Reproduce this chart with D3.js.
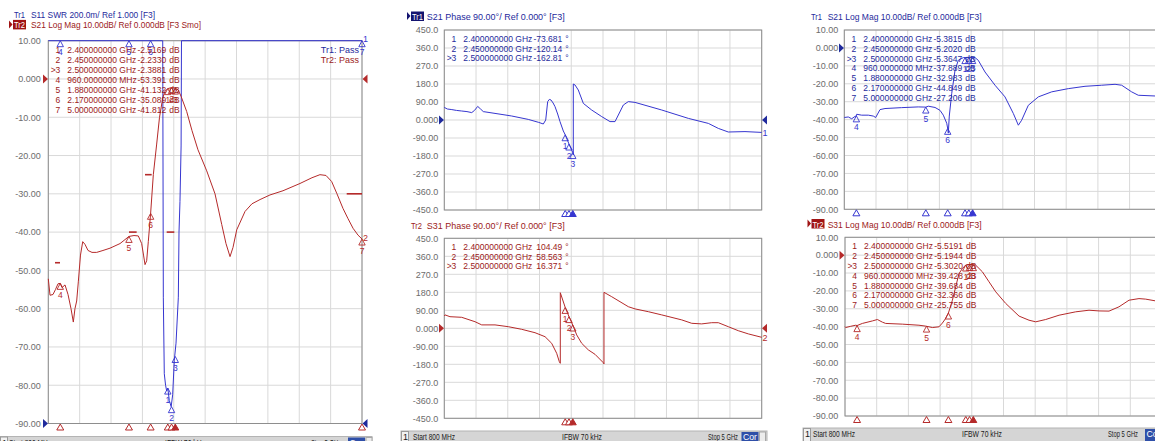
<!DOCTYPE html>
<html>
<head>
<meta charset="utf-8">
<script src="https://cdn.jsdelivr.net/npm/d3@7"></script>
<style>
  body { margin: 0; background: #fff; }
  svg { display: block; font-family: "Liberation Sans", Arial, sans-serif; }
</style>
</head>
<body>
<svg id="chart" width="1155" height="441"></svg>
<script>
// ---- tick labels (top to bottom) ----
const magTicks = ["10.00", "0.000", "-10.00", "-20.00", "-30.00", "-40.00", "-50.00", "-60.00", "-70.00", "-80.00", "-90.00"];
const phaseTicks = ["450.0", "360.0", "270.0", "180.0", "90.00", "0.000", "-90.00", "-180.0", "-270.0", "-360.0", "-450.0"];

// ---- markers ----
const markerFreqs = [2.4, 2.45, 2.5, 0.96, 1.88, 2.17, 5.0];
const phaseMarkerFreqs = [2.4, 2.45, 2.5];
const leftS21Markers = [-2.5169, -2.2330, -2.3881, -53.391, -41.132, -35.089, -41.812];
const leftSwrMarkers = [1.185, 1.088, 1.35, 3.5, 3.5, 3.5, 3.5];
const s21PhaseMarkers = [-73.681, -120.14, -162.81];
const s31PhaseMarkers = [104.49, 58.563, 16.371];
const rightS21Markers = [-5.3815, -5.2020, -5.3647, -37.889, -32.983, -44.849, -27.206];
const rightS31Markers = [-5.5191, -5.1944, -5.3020, -39.428, -39.684, -32.366, -25.755];

// ---- left screen: Tr1 S11 SWR ----
const leftSwrFreq = [0.8, 2.33, 2.332, 2.34, 2.353, 2.37, 2.385, 2.40, 2.42, 2.445, 2.465, 2.487, 2.51, 2.541, 2.55, 2.563, 2.578, 2.583, 2.59, 5.0];
const leftSwrVal = [3.6, 3.6, 3.0, 1.66, 1.26, 1.2, 1.17, 1.185, 1.12, 1.088, 1.15, 1.33, 1.42, 1.66, 2.0, 2.16, 2.45, 3.0, 3.6, 3.6];

// ---- left screen: Tr2 S21 log mag ----
const leftS21Freq = [0.8, 0.823, 0.863, 0.896, 0.93, 0.96, 0.983, 1.024, 1.064, 1.104, 1.135, 1.157, 1.18, 1.202, 1.231, 1.261, 1.291, 1.332, 1.385, 1.448, 1.532, 1.626, 1.76, 1.88, 1.947, 2.005, 2.05, 2.075, 2.095, 2.117, 2.139, 2.17, 2.206, 2.251, 2.289, 2.332, 2.362, 2.4, 2.45, 2.5, 2.537, 2.577, 2.653, 2.724, 2.804, 2.921, 3.032, 3.122, 3.179, 3.233, 3.273, 3.323, 3.434, 3.527, 3.635, 3.768, 3.942, 4.17, 4.33, 4.437, 4.518, 4.594, 4.665, 4.745, 4.813, 4.88, 4.947, 5.0];
const leftS21Val = [-52.2, -56.5, -56.3, -55, -53.5, -53.4, -54.5, -53.8, -56.3, -60, -63.5, -60, -58, -53, -46, -42.5, -43.2, -44.8, -45.3, -45.3, -44.8, -44.2, -43, -41.13, -40.9, -41, -43, -46, -48.5, -47.5, -42.5, -35.09, -25, -17, -10, -5, -3.2, -2.52, -2.23, -2.39, -2.8, -4.5, -8.5, -13.5, -18.5, -24, -30, -38, -43, -46.4, -44, -39.4, -34.6, -32.6, -31.5, -30.3, -29.2, -27.3, -25.8, -25, -25.2, -26.8, -30, -33.8, -36.5, -39, -40.8, -41.8];

// limit line segments on the left screen
const limitStart = [0.89, 1.88, 2.095, 2.385, 4.795];
const limitEnd = [0.957, 1.983, 2.184, 2.487, 5.0];
const limitVal = [-48, -40, -25, -40, -30];

// ---- middle screen: S21 / S31 phase ----
const s21PhFreq = [0.8, 0.84, 0.9, 0.96, 1.03, 1.1, 1.163, 1.2, 1.242, 1.28, 1.316, 1.471, 1.692, 1.911, 2.05, 2.11, 2.142, 2.168, 2.19, 2.212, 2.24, 2.265, 2.3, 2.331, 2.375, 2.4, 2.45, 2.5, 2.507, 2.507, 2.53, 2.573, 2.64, 2.75, 2.883, 2.993, 3.059, 3.103, 3.169, 3.235, 3.324, 3.677, 4.03, 4.294, 4.426, 4.558, 4.779, 5.0];
const s21PhVal = [63, 55, 52, 48, 45, 42, 37, 48, 68, 55, 42, 33, 20, 3, -12, -20, 0, 92, 103, 100, 85, 67, 30, -8, -55, -73.7, -120.1, -162.8, -175, 180, 175, 150, 83, 50, 17, -8, -8, 25, 75, 92, 88, 50, 8, -17, -42, -60, -58, -62];
const s31PhFreq = [0.8, 0.81, 0.875, 1.03, 1.206, 1.295, 1.471, 1.647, 1.824, 2.0, 2.133, 2.221, 2.287, 2.322, 2.335, 2.335, 2.4, 2.45, 2.5, 2.552, 2.618, 2.706, 2.794, 2.904, 2.913, 2.913, 3.015, 3.235, 3.324, 3.5, 3.677, 3.942, 4.074, 4.206, 4.338, 4.426, 4.558, 4.69, 4.823, 5.0];
const s31PhVal = [62, 67, 58, 55, 33, 17, 17, 8, -5, -22, -42, -75, -125, -167, -175, 178, 104.5, 58.6, 16.4, -33, -75, -108, -130, -172, -178, 180, 158, 108, 97, 83, 67, 42, 25, 22, 28, 28, 8, -12, -28, -45];

// ---- right screen: S21 / S31 log mag ----
const rS21Freq = [0.8, 0.853, 0.898, 0.942, 0.96, 0.964, 1.03, 1.118, 1.184, 1.216, 1.273, 1.339, 1.56, 1.78, 1.88, 1.913, 2.002, 2.068, 2.112, 2.157, 2.17, 2.178, 2.191, 2.223, 2.267, 2.31, 2.377, 2.4, 2.45, 2.5, 2.532, 2.575, 2.664, 2.797, 2.929, 3.04, 3.106, 3.15, 3.238, 3.371, 3.548, 3.768, 3.989, 4.21, 4.387, 4.475, 4.607, 4.695, 4.916, 5.0];
const rS21Val = [-38.8, -38.5, -39.5, -38.2, -37.9, -37, -37.5, -37.5, -38, -38.8, -34.4, -33.8, -33.3, -32.9, -33.0, -32.5, -33.2, -34.8, -37.5, -42, -44.85, -47.5, -38, -25.5, -12.5, -6.9, -5.4, -5.38, -5.2, -5.36, -5.4, -6.9, -13.4, -20.8, -27.3, -36.6, -43.1, -40.3, -32, -27.3, -24.5, -22.7, -21.4, -20.8, -20.3, -20.8, -24.5, -26.4, -26.8, -27.2];
const rS31Freq = [0.8, 0.809, 0.876, 0.942, 0.96, 1.03, 1.163, 1.229, 1.296, 1.339, 1.56, 1.78, 1.869, 1.958, 2.045, 2.09, 2.134, 2.17, 2.223, 2.267, 2.31, 2.355, 2.4, 2.45, 2.5, 2.532, 2.62, 2.708, 2.797, 2.929, 3.106, 3.238, 3.327, 3.459, 3.636, 3.857, 4.033, 4.166, 4.298, 4.43, 4.563, 4.695, 4.784, 4.916, 5.0];
const rS31Val = [-40, -40.5, -39.8, -39.2, -39.4, -38.2, -36.8, -36, -37.5, -38.2, -38.6, -39.2, -39.7, -40.5, -40.1, -38, -35.4, -32.4, -25.2, -17.7, -10.3, -7.5, -5.5, -5.2, -5.3, -5.6, -9.3, -14.9, -20.5, -27, -34.1, -36.4, -37.3, -36, -33.6, -31.7, -30.8, -31.2, -31.3, -28.9, -25.2, -24.3, -24.6, -25.6, -25.8];

// footer labels (text, width in px)
const footerText = [["Start 800 MHz", 42], ["IFBW 70 kHz", 40], ["Stop 5 GHz", 30]];

const freqGrid = d3.range(11).map(i => 0.8 + i * 0.42);

const BLUE = "#3636d0", BLUE_TXT = "#1e2a9c", RED = "#b52a2a", RED_TXT = "#9c1a1a";
const svg = d3.select("#chart");

// one VNA grid: frame, grid lines, y labels
function makePanel(x0, x1, y0, y1, domain, ticks, labelRight) {
    const x = d3.scaleLinear().domain([0.8, 5]).range([x0, x1]);
    const y = d3.scaleLinear().domain(domain).range([y1, y0]).clamp(true);
    const g = svg.append("g");
    g.selectAll("line.v").data(freqGrid).join("line")
        .attr("x1", d => x(d)).attr("x2", d => x(d))
        .attr("y1", y0).attr("y2", y1)
        .attr("stroke", "#d9d9d9");
    g.selectAll("line.h").data(ticks).join("line")
        .attr("x1", x0).attr("x2", x1)
        .attr("y1", d => y(+d)).attr("y2", d => y(+d))
        .attr("stroke", "#d9d9d9");
    g.append("rect")
        .attr("x", x0).attr("y", y0).attr("width", x1 - x0).attr("height", y1 - y0)
        .attr("fill", "none").attr("stroke", "#8e8e8e");
    g.selectAll("text.tick").data(ticks).join("text")
        .attr("x", labelRight).attr("y", d => y(+d) + 3.3)
        .attr("text-anchor", "end").attr("font-size", 9).attr("fill", "#6c6c6c")
        .text(d => d);
    return { x, y, g, x0, x1, y0, y1 };
}

function trace(p, ys, freqs, vals, color) {
    const line = d3.line().x((d, i) => p.x(freqs[i])).y(d => ys(d));
    p.g.append("path").datum(vals)
        .attr("d", line).attr("fill", "none")
        .attr("stroke", color).attr("stroke-width", 1);
}

// marker symbols on a trace + the little triangles under the grid
function markers(p, ys, freqs, vals, color, bottom) {
    freqs.forEach((f, i) => {
        const px = p.x(f), py = ys(vals[i]);
        p.g.append("path").attr("d", `M${px},${py} l-3.2,6 h6.4 z`)
            .attr("fill", "none").attr("stroke", color).attr("stroke-width", 0.9);
        p.g.append("text").attr("x", px).attr("y", py + 14.5)
            .attr("text-anchor", "middle").attr("font-size", 8.5).attr("fill", color)
            .text(i + 1);
        if (bottom) {
            p.g.append("path").attr("d", `M${px},${p.y1 + 0.5} l-3.5,6 h7 z`)
                .attr("fill", i === 2 ? color : "#fff").attr("stroke", color);
        }
    });
}

function fmtFreq(f) {
    return f < 1 ? (f * 1000).toFixed(7) + " MHz" : f.toFixed(9) + " GHz";
}

function readout(p, freqs, vals, unit, color, dy) {
    const t = p.g.append("g").attr("fill", color).attr("font-size", 8.5);
    freqs.forEach((f, i) => {
        const by = p.y0 + 12 + i * dy;
        if (i === 2) t.append("text").attr("x", p.x0 + 2.5).attr("y", by).text(">");
        t.append("text").attr("x", p.x0 + 12).attr("y", by).attr("text-anchor", "end").text(i + 1);
        t.append("text").attr("x", p.x0 + 19).attr("y", by).text(fmtFreq(f));
        t.append("text").attr("x", p.x0 + 118).attr("y", by).attr("text-anchor", "end").text(vals[i].toPrecision(5));
        t.append("text").attr("x", p.x0 + 121).attr("y", by).text(unit);
    });
}

// reference-level triangles at the grid sides
function refTri(x, y, dir, color) {
    const d = dir > 0 ? `M${x - 5},${y - 4.5} L${x},${y} L${x - 5},${y + 4.5} Z`
                      : `M${x + 5},${y - 4.5} L${x},${y} L${x + 5},${y + 4.5} Z`;
    svg.append("path").attr("d", d).attr("fill", color);
}

function title(x, y, tr, rest, restX, restW, color, boxColor) {
    if (boxColor) {
        svg.append("path").attr("d", `M${x - 5},${y - 8} l3.5,4 l-3.5,4 z`).attr("fill", boxColor);
        svg.append("rect").attr("x", x - 1).attr("y", y - 8.5).attr("width", 13).attr("height", 9.5).attr("fill", boxColor);
    }
    svg.append("text").attr("x", x).attr("y", y).attr("font-size", 9.5)
        .attr("fill", boxColor ? "#fff" : color).attr("textLength", 11).attr("lengthAdjust", "spacingAndGlyphs")
        .text(tr);
    svg.append("text").attr("x", restX).attr("y", y).attr("font-size", 9.5).attr("fill", color)
        .attr("textLength", restW).attr("lengthAdjust", "spacingAndGlyphs").text(rest);
}

// status bar under each screen; xs = positions of the three labels
function footer(x0, x1, y0, base, xs, corX) {
    svg.append("rect").attr("x", x0).attr("y", y0).attr("width", x1 - x0).attr("height", 441 - y0 + 5)
        .attr("fill", "#d5d5d5").attr("stroke", "#b4b4b4");
    svg.append("rect").attr("x", x0 + 0.5).attr("y", y0 + 0.5).attr("width", 7).attr("height", 441 - y0)
        .attr("fill", "#f2f2f2").attr("stroke", "#9a9a9a");
    svg.append("text").attr("x", x0 + 2).attr("y", base).attr("font-size", 9).attr("fill", "#1a1a1a").text("1");
    footerText.forEach(([s, w], i) => {
        svg.append("text").attr("x", xs[i]).attr("y", base).attr("font-size", 9).attr("fill", "#1a1a1a")
            .attr("textLength", w).attr("lengthAdjust", "spacingAndGlyphs").text(s);
    });
    svg.append("rect").attr("x", corX).attr("y", y0 + 1).attr("width", 17).attr("height", 441 - y0).attr("fill", "#2f4fa8");
    svg.append("text").attr("x", corX + 1.5).attr("y", base).attr("font-size", 9).attr("fill", "#fff")
        .attr("textLength", 14).attr("lengthAdjust", "spacingAndGlyphs").text("Cor");
    svg.append("rect").attr("x", corX + 18).attr("y", y0 + 1).attr("width", 6).attr("height", 441 - y0).attr("fill", "#ececec").attr("stroke", "#a8a8a8");
}

// ================= left screen =================
const pA = makePanel(48.3, 362, 40.7, 423.5, [-90, 10], magTicks, 40.7);
const swrY = d3.scaleLinear().domain([1, 3]).range([pA.y1, pA.y0]).clamp(true);
limitStart.forEach((s, i) => {
    pA.g.append("line").attr("x1", pA.x(s)).attr("x2", pA.x(limitEnd[i]))
        .attr("y1", pA.y(limitVal[i])).attr("y2", pA.y(limitVal[i]))
        .attr("stroke", RED).attr("stroke-width", 1.6);
});
trace(pA, swrY, leftSwrFreq, leftSwrVal, BLUE);
trace(pA, pA.y, leftS21Freq, leftS21Val, RED);
markers(pA, swrY, markerFreqs, leftSwrMarkers, BLUE, false);
markers(pA, pA.y, markerFreqs, leftS21Markers, RED, true);
readout(pA, markerFreqs, leftS21Markers, "dB", RED_TXT, 10);
pA.g.append("text").attr("x", 359).attr("y", 52.5).attr("text-anchor", "end").attr("font-size", 9).attr("fill", BLUE_TXT).text("Tr1: Pass");
pA.g.append("text").attr("x", 359).attr("y", 62.5).attr("text-anchor", "end").attr("font-size", 9).attr("fill", RED_TXT).text("Tr2: Pass");
pA.g.append("text").attr("x", 363).attr("y", pA.y0 + 1).attr("font-size", 9).attr("fill", BLUE).text("1");
pA.g.append("text").attr("x", 363).attr("y", pA.y(leftS21Val[leftS21Val.length - 1]) + 2.5).attr("font-size", 9).attr("fill", RED).text("2");
refTri(48, pA.y(0), 1, RED);
refTri(362.5, pA.y(0), -1, RED);
refTri(48, pA.y1, 1, "#1f2a9c");
refTri(362.5, pA.y1, -1, "#1f2a9c");
title(14, 18.3, "Tr1", "S11 SWR 200.0m/ Ref 1.000 [F3]", 31, 124, BLUE_TXT, null);
title(14, 28.4, "Tr2", "S21 Log Mag 10.00dB/ Ref 0.000dB [F3 Smo]", 31, 170, RED_TXT, "#a01414");
footer(0, 372, 436.5, 445.5, [9, 165, 311], 348);

// ================= middle screen =================
const pB = makePanel(444.3, 761.7, 30, 210, [-450, 450], phaseTicks, 438.3);
trace(pB, pB.y, s21PhFreq, s21PhVal, BLUE);
markers(pB, pB.y, phaseMarkerFreqs, s21PhaseMarkers, BLUE, true);
readout(pB, phaseMarkerFreqs, s21PhaseMarkers, "°", BLUE_TXT, 9.5);
pB.g.append("text").attr("x", 762.5).attr("y", pB.y(s21PhVal[s21PhVal.length - 1]) + 4).attr("font-size", 9).attr("fill", BLUE).text("1");
refTri(444, pB.y(0), 1, "#1f2a9c");
refTri(762, pB.y(0), -1, "#1f2a9c");
title(412, 20, "Tr1", "S21 Phase 90.00°/ Ref 0.000° [F3]", 426.7, 138, BLUE_TXT, "#141470");

const pC = makePanel(444.3, 761.7, 238.3, 418.3, [-450, 450], phaseTicks, 438.3);
trace(pC, pC.y, s31PhFreq, s31PhVal, RED);
markers(pC, pC.y, phaseMarkerFreqs, s31PhaseMarkers, RED, true);
readout(pC, phaseMarkerFreqs, s31PhaseMarkers, "°", RED_TXT, 9.5);
pC.g.append("text").attr("x", 762.5).attr("y", pC.y(s31PhVal[s31PhVal.length - 1]) + 4).attr("font-size", 9).attr("fill", RED).text("2");
refTri(444, pC.y(0), 1, RED);
refTri(762, pC.y(0), -1, RED);
title(411, 228.5, "Tr2", "S31 Phase 90.00°/ Ref 0.000° [F3]", 426.7, 138, RED_TXT, null);
footer(401, 767, 431, 439.5, [413, 562, 708], 741.5);

// ================= right screen =================
const pD = makePanel(844.3, 1161.3, 30, 209.3, [-90, 10], magTicks, 838.3);
trace(pD, pD.y, rS21Freq, rS21Val, BLUE);
markers(pD, pD.y, markerFreqs, rightS21Markers, BLUE, true);
readout(pD, markerFreqs, rightS21Markers, "dB", BLUE_TXT, 9.8);
refTri(844, pD.y(0), 1, "#1f2a9c");
title(811, 20, "Tr1", "S21 Log Mag 10.00dB/ Ref 0.000dB [F3]", 827.7, 154, BLUE_TXT, null);

const pE = makePanel(845, 1162, 237.3, 416, [-90, 10], magTicks, 838.3);
trace(pE, pE.y, rS31Freq, rS31Val, RED);
markers(pE, pE.y, markerFreqs, rightS31Markers, RED, true);
readout(pE, markerFreqs, rightS31Markers, "dB", RED_TXT, 9.8);
refTri(844.5, pE.y(0), 1, RED);
title(812.5, 227.5, "Tr2", "S31 Log Mag 10.00dB/ Ref 0.000dB [F3]", 827.7, 154, RED_TXT, "#a01414");
footer(803, 1170, 428, 437, [813, 962, 1108], 1145);
</script>
</body>
</html>
